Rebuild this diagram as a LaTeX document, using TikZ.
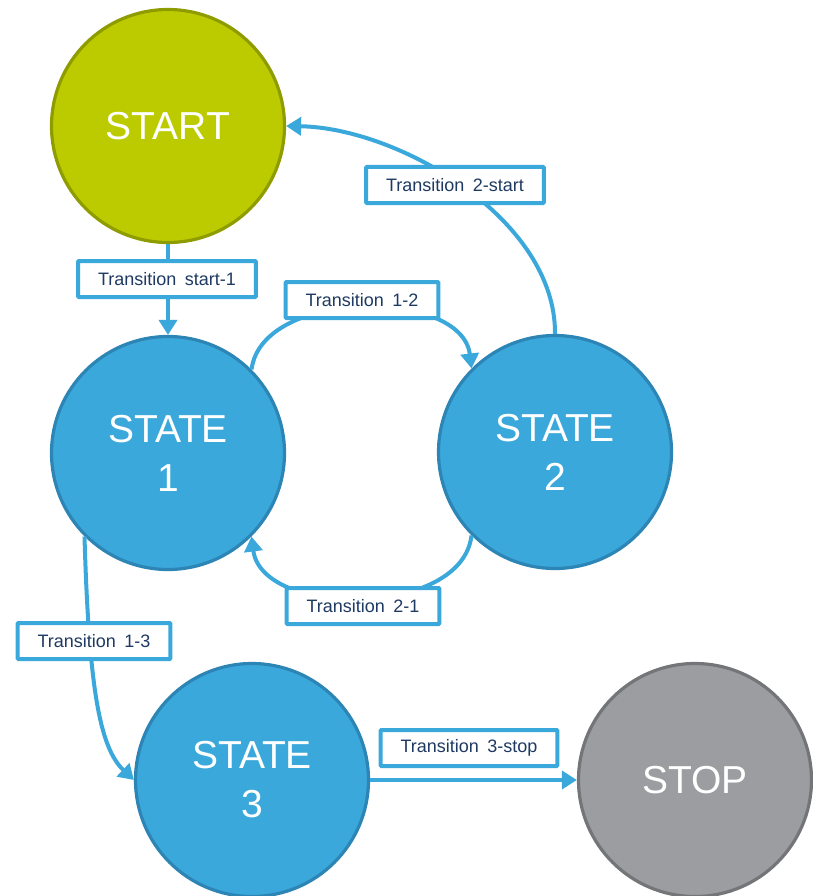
\documentclass[tikz,border=0pt]{standalone}
\usepackage{fontspec}
\setmainfont{Liberation Sans}
\newfontfamily\lblfont{Liberation Sans}[WordSpace=1.7]
\usetikzlibrary{arrows.meta}

\definecolor{stblue}{HTML}{3BA8DB}
\definecolor{stblueedge}{HTML}{2C85B5}
\definecolor{stgreen}{HTML}{BCCB00}
\definecolor{stgreenedge}{HTML}{8E9C00}
\definecolor{stgrey}{HTML}{9C9DA0}
\definecolor{stgreyedge}{HTML}{747578}
\definecolor{lbltext}{HTML}{1F3A62}

\tikzset{
  x=1pt, y=-1pt,
  statenode/.style={circle, minimum size=233pt, inner sep=0pt, line width=3.2pt,
    text=white, align=center,
    font=\fontsize{39}{49}\selectfont},
  bluestate/.style={statenode, fill=stblue, draw=stblueedge},
  lblbox/.style={draw=stblue, fill=white, line width=4pt, rounded corners=1pt,
    minimum height=36pt, inner xsep=20pt, text=lbltext,
    font=\lblfont\fontsize{18}{21}\selectfont},
  trans/.style={draw=stblue, line width=4pt,
    -{Triangle[length=15pt,width=18pt]}}
}

\begin{document}
\begin{tikzpicture}
\useasboundingbox (0,0) rectangle (812,896);

% states
\node[statenode, fill=stgreen, draw=stgreenedge] (start) at (168,126) {START};
\node[bluestate] (s1) at (168,453) {STATE\\1};
\node[bluestate] (s2) at (555,452) {STATE\\2};
\node[bluestate] (s3) at (252,780) {STATE\\3};
\node[statenode, fill=stgrey, draw=stgreyedge] (stop) at (695,780) {STOP};

% transitions
\draw[trans] (start.south) -- (s1.north);
\draw[trans] (s1.45) .. controls (262,288) and (462,288) .. (s2.135);
\draw[trans] (s2.-135) .. controls (462,618) and (262,618) .. (s1.-45);
\draw[trans] (s2.north) .. controls (556,220) and (400,128) .. (start.east);
\draw[trans] (s1.-135) .. controls (89,690) and (100,748) .. (s3.west);
\draw[trans] (s3.east) -- (stop.west);

% transition labels
\node[lblbox] (tstart1) at (167,279) {Transition start-1};
\node[lblbox] (t12) at (362,300) {Transition 1-2};
\node[lblbox] (t2start) at (455,185) {Transition 2-start};
\node[lblbox] (t21) at (363,606) {Transition 2-1};
\node[lblbox] (t13) at (94,641) {Transition 1-3};
\node[lblbox] (t3stop) at (469,748) {Transition 3-stop};
\end{tikzpicture}
\end{document}
